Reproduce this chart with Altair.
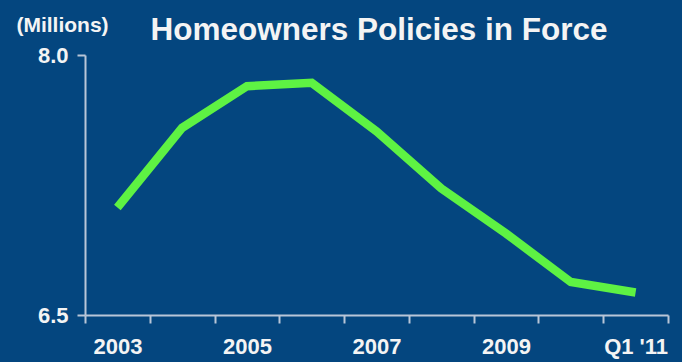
import altair as alt
import pandas as pd

periods = ["2003", "2004", "2005", "2006", "2007", "2008", "2009", "2010", "Q1 '11"]
policies = [7.12, 7.58, 7.82, 7.84, 7.56, 7.23, 6.97, 6.69, 6.63]
y_ticks = [6.5, 8.0]
title_text = ["Homeowners Policies in Force"]

df = pd.DataFrame({"period": periods, "policies": policies})
title_df = pd.DataFrame({"t": title_text})

BG = "#04467F"
AXIS = "#B9C6D8"
TEXT = "#F4F4F4"
FONT = "Liberation Sans"

line = (
    alt.Chart(df)
    .mark_line(color="#5EF243", strokeWidth=8.5, strokeCap="butt", strokeJoin="miter")
    .encode(
        x=alt.X(
            "period:N",
            sort=periods,
            bandPosition=0.5,
            scale=alt.Scale(type="band", paddingInner=0, paddingOuter=0),
            axis=alt.Axis(
                title=None,
                tickBand="extent",
                labelAngle=0,
                labelExpr="test(/^(2004|2006|2008|2010)$/, datum.value) ? '' : datum.value",
                tickSize=8,
                tickWidth=2,
                tickColor=AXIS,
                domainColor=AXIS,
                domainWidth=2,
                labelColor=TEXT,
                labelFont=FONT,
                labelFontSize=22,
                labelFontWeight="bold",
                labelPadding=13,
                grid=False,
            ),
        ),
        y=alt.Y(
            "policies:Q",
            scale=alt.Scale(domain=[6.5, 8.0], nice=False, zero=False),
            axis=alt.Axis(
                values=y_ticks,
                format=".1f",
                title="(Millions)",
                titleAngle=0,
                titleX=-23,
                titleY=-24,
                titleAlign="center",
                titleBaseline="alphabetic",
                titleColor=TEXT,
                titleFont=FONT,
                titleFontSize=21,
                titleFontWeight="bold",
                tickSize=8,
                tickWidth=2,
                tickColor=AXIS,
                domainColor=AXIS,
                domainWidth=2,
                labelColor=TEXT,
                labelFont=FONT,
                labelFontSize=22,
                labelFontWeight="bold",
                labelPadding=9,
                grid=False,
            ),
        ),
    )
)

title = (
    alt.Chart(title_df)
    .mark_text(
        color=TEXT,
        font=FONT,
        fontSize=31.5,
        fontWeight="bold",
        align="center",
        baseline="alphabetic",
    )
    .encode(text="t:N", x=alt.value(294), y=alt.value(-15))
)

chart = (
    alt.layer(line, title)
    .properties(
        width=583,
        height=260,
        autosize=alt.AutoSizeParams(type="none"),
        padding={"left": 85, "top": 55, "right": 14, "bottom": 47},
        background=BG,
    )
    .configure_view(stroke=None)
)

chart.save("out.html", embed_options={"renderer": "svg", "actions": False})
